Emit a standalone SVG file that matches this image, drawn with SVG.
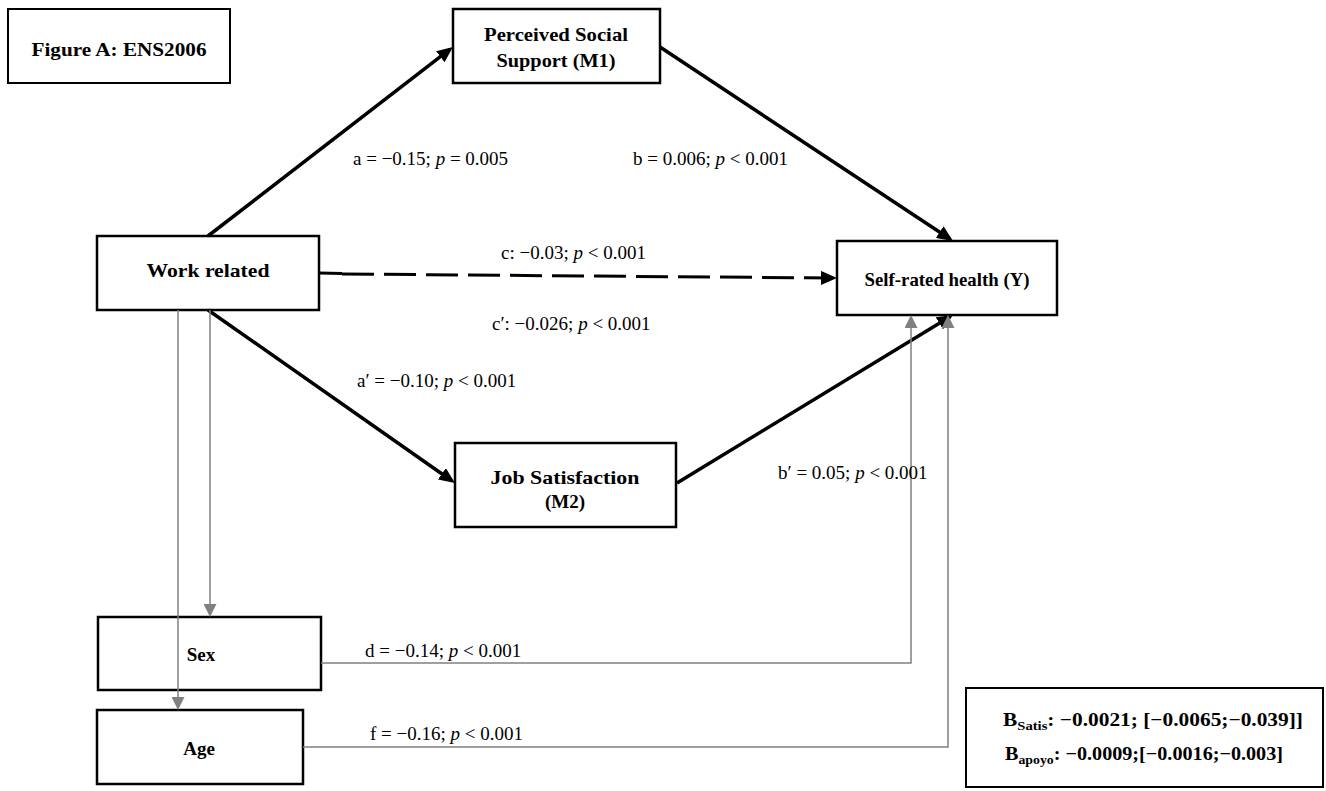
<svg xmlns="http://www.w3.org/2000/svg" width="1326" height="791" viewBox="0 0 1326 791">
<style>
  .box { fill: #ffffff; stroke: #000000; stroke-width: 2.5; }
  .nt { font-family: "Liberation Serif", "Times New Roman", serif; font-weight: bold; font-size: 19px; fill: #000; }
  .lbl { font-family: "Liberation Serif", "Times New Roman", serif; font-size: 19px; fill: #000; }
  .it { font-style: italic; }
  .blk { fill: none; stroke: #000; stroke-width: 3.5; }
  .gry { fill: none; stroke: #808080; stroke-width: 1.5; }
</style>
<defs>
  <marker id="ab" viewBox="0 0 16 14" refX="12" refY="7" markerWidth="16" markerHeight="14" markerUnits="userSpaceOnUse" orient="auto">
    <path d="M0,0 L16,7 L0,14 z" fill="#000"/>
  </marker>
  <marker id="ag" viewBox="0 0 13 13" refX="9" refY="6.5" markerWidth="13" markerHeight="13" markerUnits="userSpaceOnUse" orient="auto">
    <path d="M0,0 L13,6.5 L0,13 z" fill="#808080"/>
  </marker>
</defs>
<rect width="1326" height="791" fill="#ffffff"/>

<g id="title">
  <rect class="box" x="8" y="9" width="222" height="74" style="stroke-width:2"/>
  <text class="nt" x="119" y="56" text-anchor="middle" textLength="175" lengthAdjust="spacingAndGlyphs">Figure A: ENS2006</text>
</g>
<g id="m1">
  <rect class="box" x="453" y="9" width="207" height="74"/>
  <text class="nt" x="556" y="41" text-anchor="middle" textLength="144" lengthAdjust="spacingAndGlyphs">Perceived Social</text>
  <text class="nt" x="556" y="67" text-anchor="middle" textLength="119" lengthAdjust="spacingAndGlyphs">Support (M1)</text>
</g>
<g id="x">
  <rect class="box" x="97" y="236" width="222" height="74"/>
  <text class="nt" x="208" y="277" text-anchor="middle" textLength="123" lengthAdjust="spacingAndGlyphs">Work related</text>
</g>
<g id="y">
  <rect class="box" x="837" y="241" width="220" height="74"/>
  <text class="nt" x="947" y="286" text-anchor="middle" textLength="165" lengthAdjust="spacingAndGlyphs">Self-rated health (Y)</text>
</g>
<g id="m2">
  <rect class="box" x="455" y="443" width="221" height="84"/>
  <text class="nt" x="565" y="484" text-anchor="middle" textLength="149" lengthAdjust="spacingAndGlyphs">Job Satisfaction</text>
  <text class="nt" x="565" y="508" text-anchor="middle">(M2)</text>
</g>
<g id="sex">
  <rect class="box" x="98" y="617" width="223" height="73"/>
  <text class="nt" x="201" y="661" text-anchor="middle">Sex</text>
</g>
<g id="age">
  <rect class="box" x="97" y="710" width="206" height="74"/>
  <text class="nt" x="199" y="755" text-anchor="middle">Age</text>
</g>
<g id="legend">
  <rect class="box" x="966" y="688" width="357" height="99" style="stroke-width:2"/>
  <text class="nt" x="1003" y="726" textLength="300" lengthAdjust="spacingAndGlyphs">B<tspan font-size="13" dy="4">Satis</tspan><tspan dy="-4">: −0.0021; [−0.0065;−0.039]]</tspan></text>
  <text class="nt" x="1005" y="760" textLength="278" lengthAdjust="spacingAndGlyphs">B<tspan font-size="13" dy="4">apoyo</tspan><tspan dy="-4">: −0.0009;[−0.0016;−0.003]</tspan></text>
</g>

<g id="connectors">
  <line class="blk" x1="208" y1="236" x2="449.8" y2="49.4" marker-end="url(#ab)"/>
  <line class="blk" x1="660" y1="47" x2="949.7" y2="238.8" marker-end="url(#ab)"/>
  <line class="blk" x1="208" y1="310" x2="451.7" y2="480.7" marker-end="url(#ab)"/>
  <line class="blk" x1="677" y1="483" x2="949.6" y2="317.1" marker-end="url(#ab)"/>
  <line class="blk" x1="319" y1="273" x2="342" y2="273.5" style="stroke-width:3"/>
  <line class="blk" x1="342" y1="274" x2="833" y2="278" stroke-dasharray="32 10" style="stroke-width:3" marker-end="url(#ab)"/>
  <line class="gry" x1="178" y1="310" x2="178" y2="706" marker-end="url(#ag)"/>
  <line class="gry" x1="210" y1="310" x2="210" y2="613" marker-end="url(#ag)"/>
  <polyline class="gry" points="321,663 911,663 911,319" marker-end="url(#ag)"/>
  <polyline class="gry" points="303,747 948,747 948,319" marker-end="url(#ag)"/>
</g>

<g id="labels">
  <text class="lbl" x="353" y="165">a = −0.15; <tspan class="it">p</tspan> = 0.005</text>
  <text class="lbl" x="633" y="165">b = 0.006; <tspan class="it">p</tspan> &lt; 0.001</text>
  <text class="lbl" x="501" y="259">c: −0.03; <tspan class="it">p</tspan> &lt; 0.001</text>
  <text class="lbl" x="492" y="330">c′: −0.026; <tspan class="it">p</tspan> &lt; 0.001</text>
  <text class="lbl" x="357" y="387">a′ = −0.10; <tspan class="it">p</tspan> &lt; 0.001</text>
  <text class="lbl" x="778" y="479">b′ = 0.05; <tspan class="it">p</tspan> &lt; 0.001</text>
  <text class="lbl" x="365" y="657">d = −0.14; <tspan class="it">p</tspan> &lt; 0.001</text>
  <text class="lbl" x="370" y="740">f = −0.16; <tspan class="it">p</tspan> &lt; 0.001</text>
</g>
</svg>
